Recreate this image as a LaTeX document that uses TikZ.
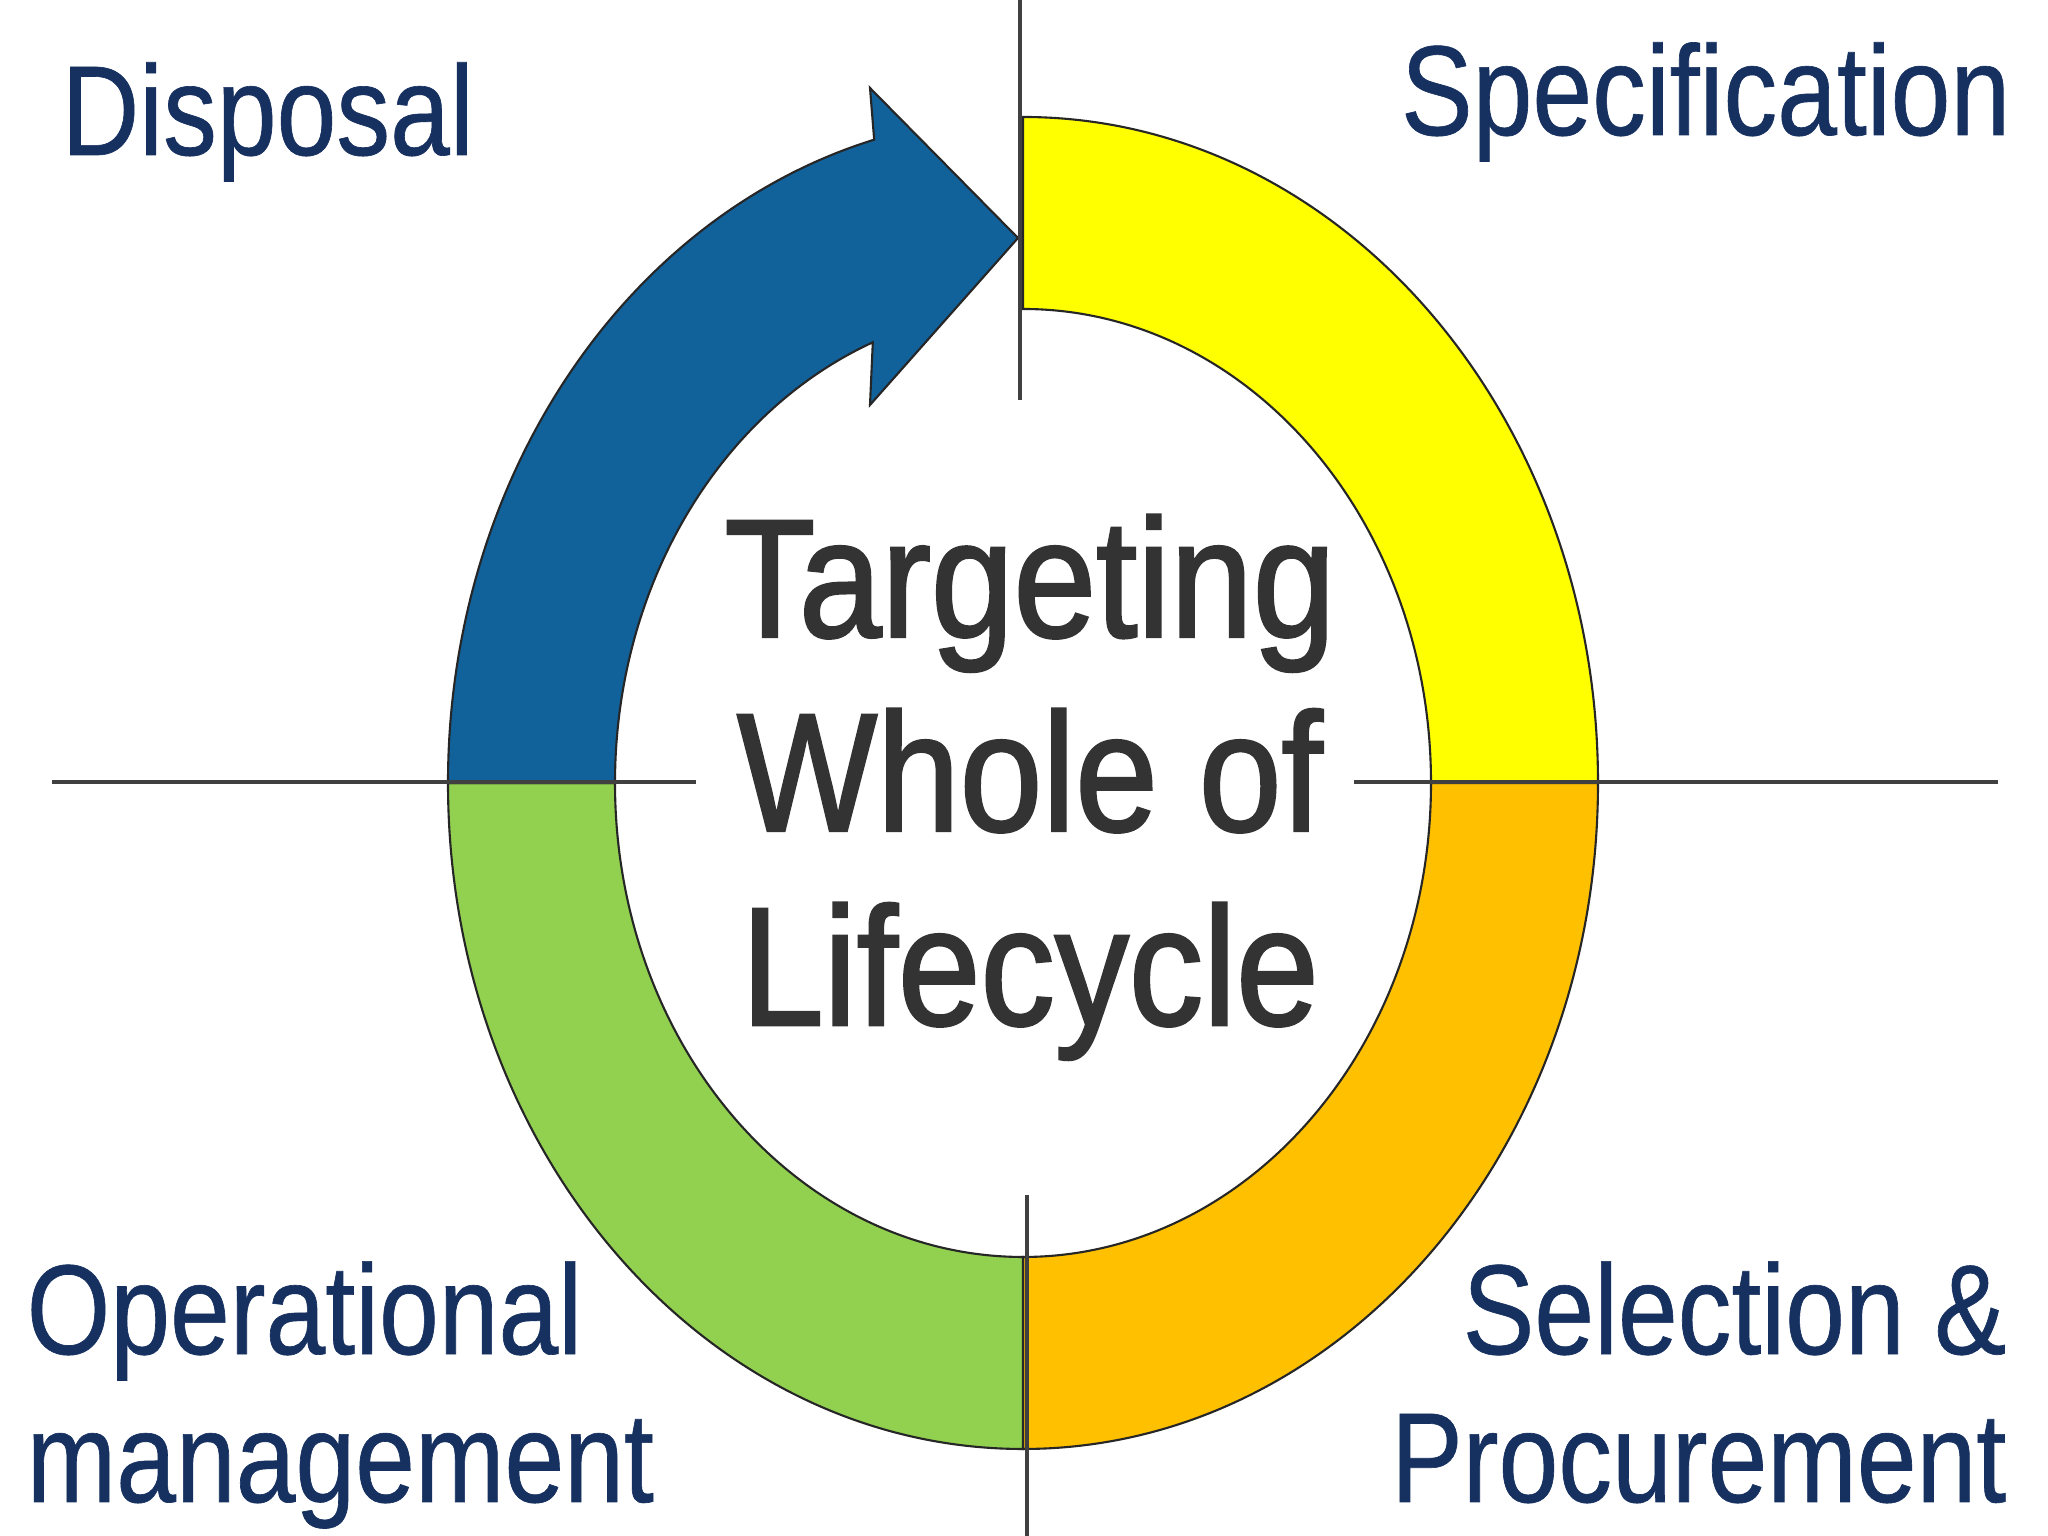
\documentclass[tikz,border=0pt]{standalone}
\usepackage{fontspec}
\setmainfont{Liberation Sans}[FakeStretch=0.84, FakeBold=0.5]
\newfontfamily\centrefont{Liberation Sans}[FakeStretch=0.88, FakeBold=1.5]
\usetikzlibrary{calc}
\definecolor{ringblue}{RGB}{17,97,155}
\definecolor{ringyellow}{RGB}{255,255,0}
\definecolor{ringorange}{RGB}{255,192,0}
\definecolor{ringgreen}{RGB}{146,208,80}
\definecolor{labelnavy}{RGB}{22,48,96}
\definecolor{centregrey}{RGB}{51,51,51}
\begin{document}
\begin{tikzpicture}[
  seg/.style={draw=black!85, line width=0.6pt},
  axis/.style={draw=black!75, line width=0.9pt},
  phase/.style={text=labelnavy, inner sep=0pt, font=\fontsize{36.4}{42.1}\selectfont},
  ]
  \useasboundingbox[fill=white] (0,0) rectangle (20.48,15.36);
  \coordinate (c) at (10.23,7.53);
  \foreach \a/\b/\col in {90/0/ringyellow, 0/-90/ringorange, 270/180/ringgreen}
    \filldraw[seg, fill=\col] ($(c)+(\a:5.75 and 6.66)$) arc[start angle=\a, end angle=\b, x radius=5.75, y radius=6.66]
      -- ($(c)+(\b:4.08 and 4.74)$) arc[start angle=\b, end angle=\a, x radius=4.08, y radius=4.74] -- cycle;
  \coordinate (tip) at (10.18,12.98);
  \filldraw[seg, fill=ringblue] ($(c)+(180:5.75 and 6.66)$) arc[start angle=180, end angle=105, x radius=5.75, y radius=6.66]
    -- (8.70,14.48) -- (tip) -- (8.70,11.31)
    -- ($(c)+(111.6:4.08 and 4.74)$) arc[start angle=111.6, end angle=180, x radius=4.08, y radius=4.74] -- cycle;
  \draw[axis] (0.52,7.54) -- (6.96,7.54);
  \draw[axis] (13.54,7.54) -- (19.98,7.54);
  \draw[axis] (10.20,15.36) -- (10.20,11.36);
  \draw[axis] (10.27,3.41) -- (10.27,0);
  \node[text=centregrey, inner sep=0pt, align=center, anchor=base,
    font=\centrefont\fontsize{48}{55.2}\selectfont] (centre) at (10.30,5.11) {Targeting\\Whole of\\Lifecycle};
  \node[phase, anchor=base west] (disposal) at (0.61,13.81) {Disposal};
  \node[phase, anchor=base east] (spec) at (20.11,14.01) {Specification};
  \node[phase, anchor=base west, align=left] (operation) at (0.26,0.34) {Operational\\management};
  \node[phase, anchor=base east, align=right] (procure) at (20.07,0.34) {Selection \&\\Procurement};
\end{tikzpicture}
\end{document}
